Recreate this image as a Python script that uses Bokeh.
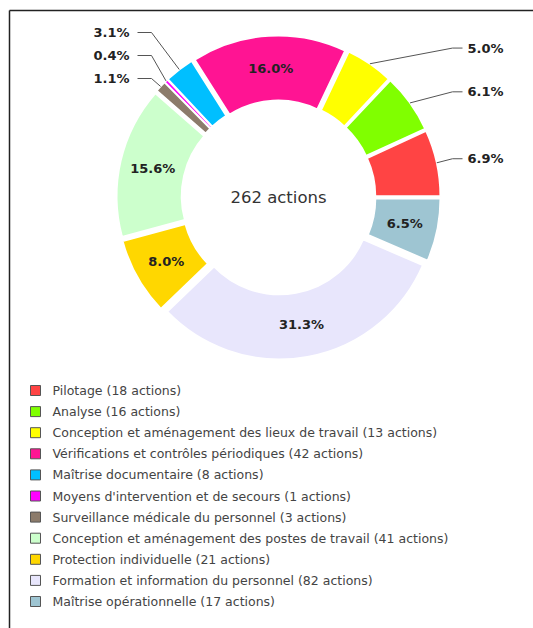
import math
from bokeh.plotting import figure
from bokeh.models import Range1d, ColumnDataSource
from bokeh.core.properties import value
from bokeh.embed import file_html
from bokeh.resources import INLINE

# ---------------- data ----------------
CATEGORIES = [
    "Pilotage",
    "Analyse",
    "Conception et aménagement des lieux de travail",
    "Vérifications et contrôles périodiques",
    "Maîtrise documentaire",
    "Moyens d'intervention et de secours",
    "Surveillance médicale du personnel",
    "Conception et aménagement des postes de travail",
    "Protection individuelle",
    "Formation et information du personnel",
    "Maîtrise opérationnelle",
]
ACTIONS = [18, 16, 13, 42, 8, 1, 3, 41, 21, 82, 17]
COLORS = ["#FF4444", "#80FF00", "#FFFF00", "#FF1493", "#00BFFF", "#FF00FF",
          "#8C7B6B", "#CCFFCC", "#FFD700", "#E8E6FC", "#9EC5D2"]
LABEL_INSIDE = [False, False, False, True, False, False, False, True, True, True, True]
CENTER_LABEL = "262 actions"

# ---------------- layout ----------------
W, H = 533, 628
def Y(py):            # page pixel row -> data y
    return H - py

CX, CY = 278, Y(197)
R_OUT, R_IN, EXPLODE = 156, 91, 6
R_LABEL_IN = 129
R_LABEL_OUT = 181
RIGHT_LABEL_X = 467
LEFT_LABEL_X = 129
LEFT_LABEL_Y = [32, 55, 78]
FONT = value("DejaVu Sans")
PCT_SIZE = "13px"

p = figure(width=W, height=H, output_backend="svg", toolbar_location=None,
           x_range=Range1d(0, W), y_range=Range1d(0, H),
           min_border=0, outline_line_color=None)
p.axis.visible = False
p.grid.visible = False
p.background_fill_color = "white"
p.border_fill_color = "white"

total = sum(ACTIONS)
starts, ends, mids = [], [], []
acc = 0
for v in ACTIONS:
    a0 = acc / total * 2 * math.pi
    acc += v
    a1 = acc / total * 2 * math.pi
    starts.append(a0); ends.append(a1); mids.append((a0 + a1) / 2)

pcts = ["%.1f%%" % (v / total * 100) for v in ACTIONS]

src = ColumnDataSource(dict(
    x=[CX + EXPLODE * math.cos(m) for m in mids],
    y=[CY + EXPLODE * math.sin(m) for m in mids],
    start=starts, end=ends, color=COLORS))
p.annular_wedge(x="x", y="y", inner_radius=R_IN, outer_radius=R_OUT,
                start_angle="start", end_angle="end", direction="anticlock",
                fill_color="color", line_color="white", line_width=1.8, source=src)

# inside labels
ix, iy, it = [], [], []
for m, t, ins in zip(mids, pcts, LABEL_INSIDE):
    if ins:
        ix.append(CX + R_LABEL_IN * math.cos(m))
        iy.append(CY + R_LABEL_IN * math.sin(m))
        it.append(t)
p.text(x=ix, y=iy, text=it, text_align="center", text_baseline="middle",
       text_font=FONT, text_font_style="bold", text_font_size=PCT_SIZE,
       text_color="#222222")

# outside labels with leader lines
lx, ly, lxs, lys, lt, la = [], [], [], [], [], []
left_i = 0
for m, t, ins in zip(mids, pcts, LABEL_INSIDE):
    if ins:
        continue
    sx = CX + (R_OUT + EXPLODE) * math.cos(m)
    sy = CY + (R_OUT + EXPLODE) * math.sin(m)
    if math.cos(m) >= 0:
        ty = CY + R_LABEL_OUT * math.sin(m)
        lxs.append([sx, RIGHT_LABEL_X - 15, RIGHT_LABEL_X - 5])
        lys.append([sy, ty, ty])
        lx.append(RIGHT_LABEL_X); la.append("left")
    else:
        ty = Y(LEFT_LABEL_Y[left_i]); left_i += 1
        lxs.append([sx, LEFT_LABEL_X + 22, LEFT_LABEL_X + 8])
        lys.append([sy, ty, ty])
        lx.append(LEFT_LABEL_X); la.append("right")
    ly.append(ty); lt.append(t)
p.multi_line(xs=lxs, ys=lys, line_color="#555555", line_width=1)
p.text(x=lx, y=ly, text=lt, text_align=la, text_baseline="middle",
       text_font=FONT, text_font_style="bold", text_font_size=PCT_SIZE,
       text_color="#222222")

# center label
p.text(x=[CX], y=[CY], text=[CENTER_LABEL], text_align="center",
       text_baseline="middle", text_font=FONT, text_font_size="16.5px",
       text_color="#333333")

# legend
LEG_Y0, LEG_DY = 390, 21.1
leg_y = [Y(LEG_Y0 + i * LEG_DY) for i in range(len(CATEGORIES))]
p.rect(x=[35] * len(CATEGORIES), y=leg_y, width=10, height=10,
       fill_color=COLORS, line_color="#555555", line_width=1)
p.text(x=[52] * len(CATEGORIES), y=leg_y,
       text=["%s (%d actions)" % (c, v) for c, v in zip(CATEGORIES, ACTIONS)],
       text_align="left", text_baseline="middle", text_font=FONT,
       text_font_size="12.5px", text_color="#444444")

# frame lines (top and left), starting at the frame corner
FRAME_X, FRAME_Y = 9, 10
p.segment(x0=[FRAME_X, FRAME_X], y0=[Y(FRAME_Y), Y(FRAME_Y)],
          x1=[W, FRAME_X], y1=[Y(FRAME_Y), 0],
          line_color="#222222", line_width=1.5)

open("out.html", "w").write(file_html(p, INLINE))
